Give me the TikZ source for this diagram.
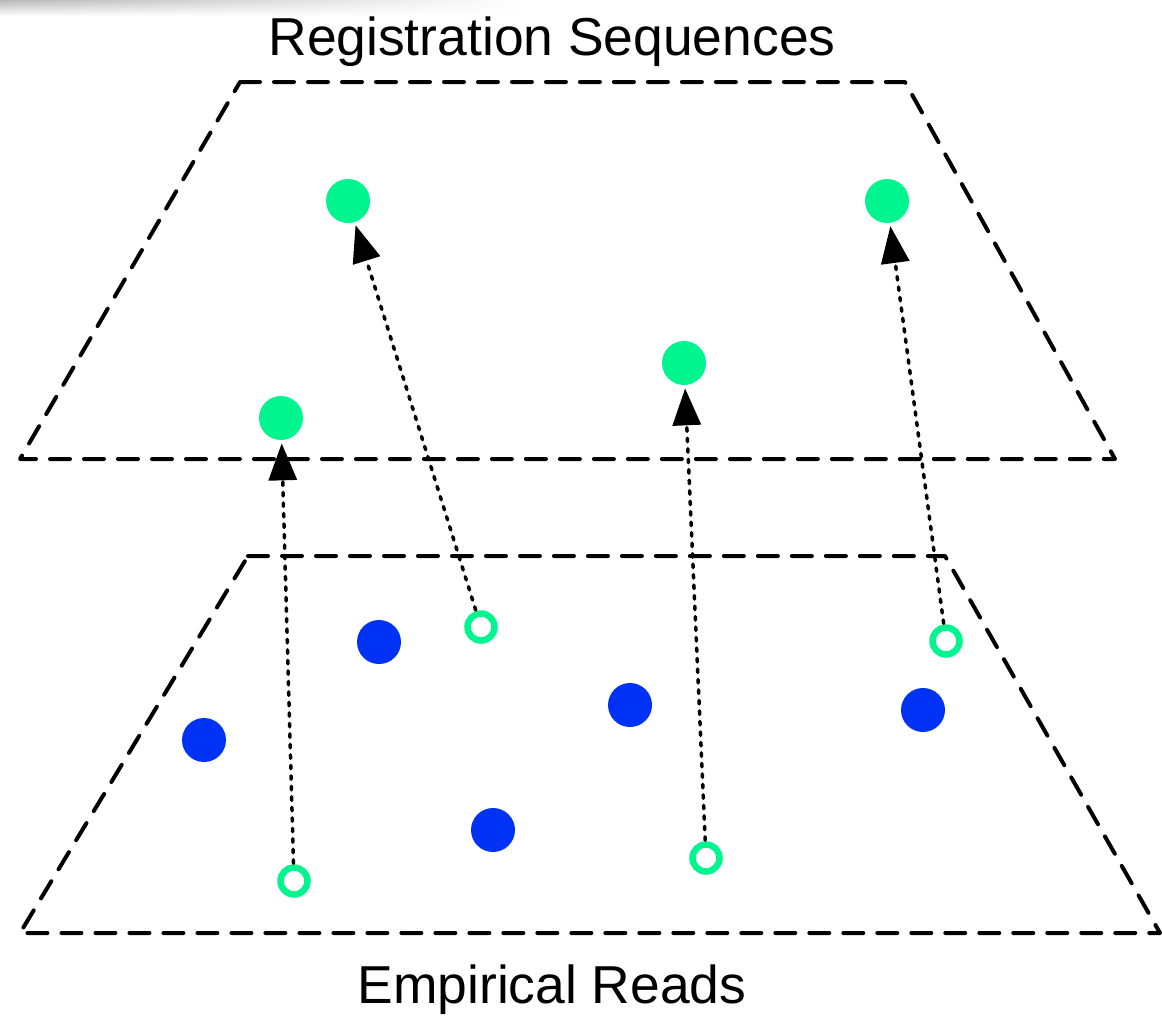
\documentclass[tikz,border=0pt]{standalone}
\usepackage{fontspec}
\setmainfont{Liberation Sans}
\usetikzlibrary{arrows.meta,fadings}
\definecolor{mint}{RGB}{0,245,142}
\definecolor{dotblue}{RGB}{0,50,245}
\begin{document}
\begin{tikzpicture}[x=0.02cm,y=-0.02cm,
  plane/.style={line width=0.08cm, dash pattern=on 0.4cm off 0.28cm, line cap=round, line join=round},
  filled/.style={circle, fill=mint, minimum size=0.88cm, inner sep=0pt, draw=none},
  blue/.style={circle, fill=dotblue, minimum size=0.88cm, inner sep=0pt, draw=none},
  hollow/.style={circle, draw=mint, line width=0.13cm, minimum size=0.54cm, inner sep=0pt},
  link/.style={line width=0.07cm, line cap=round, dash pattern=on 0.07cm off 0.14cm,
     -{Triangle[length=0.74cm,width=0.56cm]}, shorten >=0.06cm, shorten <=0.02cm},
  label/.style={font=\fontsize{30.4}{36}\selectfont, anchor=base, inner sep=0pt}]
\useasboundingbox (0,0) rectangle (1162,1015);
\fill[white] (0,0) rectangle (1162,1015);
\shade[top color=gray!55, bottom color=white, path fading=east] (0,0) rectangle (520,16);
% planes
\draw[plane] (240,82) -- (905,82) -- (1115,459) -- (20,459) -- cycle;
\draw[plane] (248,556) -- (945,556) -- (1160,933) -- (20,933) -- cycle;
% labels
\node[label] (top) at (552,55) {Registration Sequences};
\node[label] (bot) at (552,1003) {Empirical Reads};
% registration points
\node[filled] (g1) at (348,201) {};
\node[filled] (g2) at (887,201) {};
\node[filled] (g3) at (684,363) {};
\node[filled] (g4) at (281,418) {};
% blue reads
\node[blue] (b1) at (379,642) {};
\node[blue] (b2) at (204,740) {};
\node[blue] (b3) at (630,705) {};
\node[blue] (b4) at (923,710) {};
\node[blue] (b5) at (493,830) {};
% hollow reads
\node[hollow] (h1) at (481,627) {};
\node[hollow] (h2) at (946,641) {};
\node[hollow] (h3) at (294,881) {};
\node[hollow] (h4) at (706,858) {};
% links
\draw[link] (h3) -- (g4);
\draw[link] (h1) -- (g1);
\draw[link] (h4) -- (g3);
\draw[link] (h2) -- (g2);
\end{tikzpicture}
\end{document}
